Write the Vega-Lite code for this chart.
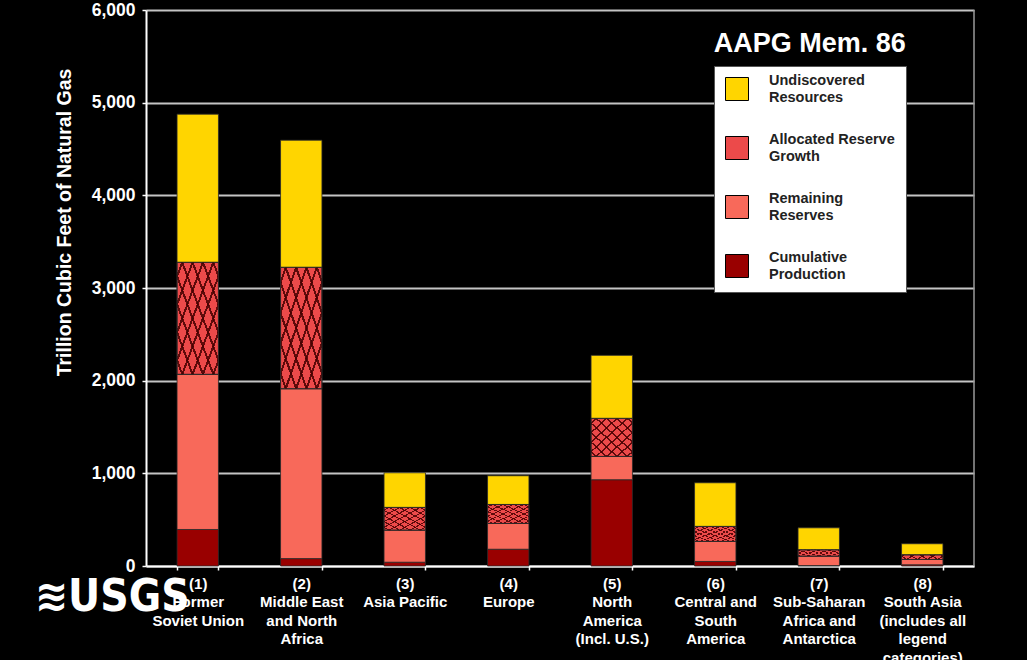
{
  "$schema": "https://vega.github.io/schema/vega-lite/v6.json",
  "autosize": {"type": "none"},
  "width": 828,
  "height": 556,
  "padding": {"left": 146, "top": 10, "right": 53, "bottom": 94},
  "background": "black",
  "config": {
    "font": "Liberation Sans",
    "view": {"stroke": null},
    "axis": {"labelColor": "white", "titleColor": "white", "labelFontWeight": "bold", "titleFontWeight": "bold", "labelFont": "Liberation Sans", "titleFont": "Liberation Sans"}
  },
  "datasets": {
    "gas": [
      {"region": "Former Soviet Union", "component": "Cumulative Production", "seq": 1, "tcf": 394},
      {"region": "Former Soviet Union", "component": "Remaining Reserves", "seq": 2, "tcf": 1674},
      {"region": "Former Soviet Union", "component": "Allocated Reserve Growth", "seq": 3, "tcf": 1209},
      {"region": "Former Soviet Union", "component": "Undiscovered Resources", "seq": 4, "tcf": 1599},
      {"region": "Middle East and North Africa", "component": "Cumulative Production", "seq": 1, "tcf": 80},
      {"region": "Middle East and North Africa", "component": "Remaining Reserves", "seq": 2, "tcf": 1833},
      {"region": "Middle East and North Africa", "component": "Allocated Reserve Growth", "seq": 3, "tcf": 1310},
      {"region": "Middle East and North Africa", "component": "Undiscovered Resources", "seq": 4, "tcf": 1372},
      {"region": "Asia Pacific", "component": "Cumulative Production", "seq": 1, "tcf": 41},
      {"region": "Asia Pacific", "component": "Remaining Reserves", "seq": 2, "tcf": 346},
      {"region": "Asia Pacific", "component": "Allocated Reserve Growth", "seq": 3, "tcf": 245},
      {"region": "Asia Pacific", "component": "Undiscovered Resources", "seq": 4, "tcf": 374},
      {"region": "Europe", "component": "Cumulative Production", "seq": 1, "tcf": 181},
      {"region": "Europe", "component": "Remaining Reserves", "seq": 2, "tcf": 278},
      {"region": "Europe", "component": "Allocated Reserve Growth", "seq": 3, "tcf": 205},
      {"region": "Europe", "component": "Undiscovered Resources", "seq": 4, "tcf": 310},
      {"region": "North America (Incl. U.S.)", "component": "Cumulative Production", "seq": 1, "tcf": 931},
      {"region": "North America (Incl. U.S.)", "component": "Remaining Reserves", "seq": 2, "tcf": 251},
      {"region": "North America (Incl. U.S.)", "component": "Allocated Reserve Growth", "seq": 3, "tcf": 411},
      {"region": "North America (Incl. U.S.)", "component": "Undiscovered Resources", "seq": 4, "tcf": 680},
      {"region": "Central and South America", "component": "Cumulative Production", "seq": 1, "tcf": 49},
      {"region": "Central and South America", "component": "Remaining Reserves", "seq": 2, "tcf": 216},
      {"region": "Central and South America", "component": "Allocated Reserve Growth", "seq": 3, "tcf": 162},
      {"region": "Central and South America", "component": "Undiscovered Resources", "seq": 4, "tcf": 471},
      {"region": "Sub-Saharan Africa and Antarctica", "component": "Cumulative Production", "seq": 1, "tcf": 5},
      {"region": "Sub-Saharan Africa and Antarctica", "component": "Remaining Reserves", "seq": 2, "tcf": 101},
      {"region": "Sub-Saharan Africa and Antarctica", "component": "Allocated Reserve Growth", "seq": 3, "tcf": 69},
      {"region": "Sub-Saharan Africa and Antarctica", "component": "Undiscovered Resources", "seq": 4, "tcf": 237},
      {"region": "South Asia", "component": "Cumulative Production", "seq": 1, "tcf": 13},
      {"region": "South Asia", "component": "Remaining Reserves", "seq": 2, "tcf": 57},
      {"region": "South Asia", "component": "Allocated Reserve Growth", "seq": 3, "tcf": 51},
      {"region": "South Asia", "component": "Undiscovered Resources", "seq": 4, "tcf": 119}
    ],
    "notes": [
      {"note": "AAPG Mem. 86"}
    ],
    "logo": [
      {"logo": "≋USGS"}
    ],
    "edge": [
      {"region": "South Asia", "low": 0, "high": 6000}
    ]
  },
  "encoding": {
    "x": {
      "field": "region",
      "type": "nominal",
      "sort": null,
      "scale": {"domain": ["Former Soviet Union", "Middle East and North Africa", "Asia Pacific", "Europe", "North America (Incl. U.S.)", "Central and South America", "Sub-Saharan Africa and Antarctica", "South Asia"], "paddingInner": 0.6, "paddingOuter": 0.3},
      "axis": {
        "title": null,
        "labelAngle": 0,
        "labelFontSize": 15,
        "labelLineHeight": 18.5,
        "labelPadding": 6,
        "labelBaseline": "top",
        "labelLimit": 200,
        "domainColor": "white",
        "domainWidth": 2,
        "tickColor": "white",
        "tickSize": 4,
        "tickWidth": 1.5,
        "tickBand": "extent",
        "grid": false,
        "labelExpr": "{'Former Soviet Union': ['(1)', 'Former', 'Soviet Union'], 'Middle East and North Africa': ['(2)', 'Middle East', 'and North', 'Africa'], 'Asia Pacific': ['(3)', 'Asia Pacific'], 'Europe': ['(4)', 'Europe'], 'North America (Incl. U.S.)': ['(5)', 'North', 'America', '(Incl. U.S.)'], 'Central and South America': ['(6)', 'Central and', 'South', 'America'], 'Sub-Saharan Africa and Antarctica': ['(7)', 'Sub-Saharan', 'Africa and', 'Antarctica'], 'South Asia': ['(8)', 'South Asia', '(includes all', 'legend', 'categories)']}[datum.label]"
      }
    }
  },
  "layer": [
    {
      "data": {"name": "edge"},
      "mark": {"type": "rule", "color": "#9a9a9a", "strokeWidth": 1.5},
      "encoding": {
        "x": {"field": "region", "type": "nominal", "bandPosition": 1.75},
        "y": {"field": "low", "type": "quantitative", "title": "Trillion Cubic Feet of Natural Gas"},
        "y2": {"field": "high"}
      }
    },
    {
      "data": {"name": "gas"},
      "mark": {"type": "bar", "stroke": "#2a2a2a", "strokeWidth": 0.8},
      "encoding": {
        "y": {
          "field": "tcf",
          "type": "quantitative",
          "stack": "zero",
          "title": "Trillion Cubic Feet of Natural Gas",
          "scale": {"domain": [0, 6000], "nice": false},
          "axis": {
            "title": "Trillion Cubic Feet of Natural Gas",
            "titleFontSize": 19.5,
            "titleAngle": -90,
            "titleX": -82,
            "titleY": 212,
            "titleAlign": "center",
            "titleBaseline": "middle",
            "labelFontSize": 17.5,
            "labelPadding": 7,
            "format": ",d",
            "values": [0, 1000, 2000, 3000, 4000, 5000, 6000],
            "domainColor": "white",
            "domainWidth": 2,
            "tickColor": "white",
            "tickSize": 4,
            "tickWidth": 1.5,
            "gridColor": "#c4c4c4",
            "gridWidth": 1.8
          }
        },
        "color": {
          "field": "component",
          "type": "nominal",
          "scale": {
            "domain": ["Undiscovered Resources", "Allocated Reserve Growth", "Remaining Reserves", "Cumulative Production"],
            "range": ["#FFD500", "#EC4A4A", "#F8695A", "#990000"]
          },
          "legend": {
            "title": null,
            "orient": "none",
            "legendX": 568,
            "legendY": 56,
            "fillColor": "white",
            "strokeColor": "#555555",
            "padding": 11,
            "symbolType": "square",
            "symbolSize": 529,
            "symbolStrokeColor": "black",
            "symbolStrokeWidth": 1,
            "symbolOpacity": 1,
            "labelFont": "Liberation Sans",
            "labelFontWeight": "bold",
            "labelFontSize": 14.5,
            "labelColor": "#222222",
            "labelLineHeight": 17.5,
            "labelBaseline": "line-bottom",
            "labelOffset": 20,
            "labelLimit": 200,
            "rowPadding": 28,
            "labelExpr": "{'Undiscovered Resources': ['Undiscovered', 'Resources'], 'Allocated Reserve Growth': ['Allocated Reserve', 'Growth'], 'Remaining Reserves': ['Remaining', 'Reserves'], 'Cumulative Production': ['Cumulative', 'Production']}[datum.label]"
          }
        },
        "order": {"field": "seq", "type": "quantitative"}
      }
    },
    {
      "data": {"name": "gas"},
      "transform": [
        {"stack": "tcf", "groupby": ["region"], "sort": [{"field": "seq", "order": "ascending"}], "as": ["lo", "hi"]},
        {"filter": "datum.component == 'Allocated Reserve Growth'"}
      ],
      "mark": {
        "type": "bar",
        "stroke": null,
        "fill": {
          "gradient": "linear", "x1": 0, "y1": 0, "x2": 1, "y2": 1,
          "stops": [
            {"offset": 0, "color": "rgba(0,0,0,0)"},
            {"offset": 0.05, "color": "rgba(0,0,0,0)"}, {"offset": 0.05, "color": "rgba(70,0,0,0.85)"}, {"offset": 0.075, "color": "rgba(70,0,0,0.85)"}, {"offset": 0.075, "color": "rgba(0,0,0,0)"},
            {"offset": 0.175, "color": "rgba(0,0,0,0)"}, {"offset": 0.175, "color": "rgba(70,0,0,0.85)"}, {"offset": 0.2, "color": "rgba(70,0,0,0.85)"}, {"offset": 0.2, "color": "rgba(0,0,0,0)"},
            {"offset": 0.3, "color": "rgba(0,0,0,0)"}, {"offset": 0.3, "color": "rgba(70,0,0,0.85)"}, {"offset": 0.325, "color": "rgba(70,0,0,0.85)"}, {"offset": 0.325, "color": "rgba(0,0,0,0)"},
            {"offset": 0.425, "color": "rgba(0,0,0,0)"}, {"offset": 0.425, "color": "rgba(70,0,0,0.85)"}, {"offset": 0.45, "color": "rgba(70,0,0,0.85)"}, {"offset": 0.45, "color": "rgba(0,0,0,0)"},
            {"offset": 0.55, "color": "rgba(0,0,0,0)"}, {"offset": 0.55, "color": "rgba(70,0,0,0.85)"}, {"offset": 0.575, "color": "rgba(70,0,0,0.85)"}, {"offset": 0.575, "color": "rgba(0,0,0,0)"},
            {"offset": 0.675, "color": "rgba(0,0,0,0)"}, {"offset": 0.675, "color": "rgba(70,0,0,0.85)"}, {"offset": 0.7, "color": "rgba(70,0,0,0.85)"}, {"offset": 0.7, "color": "rgba(0,0,0,0)"},
            {"offset": 0.8, "color": "rgba(0,0,0,0)"}, {"offset": 0.8, "color": "rgba(70,0,0,0.85)"}, {"offset": 0.825, "color": "rgba(70,0,0,0.85)"}, {"offset": 0.825, "color": "rgba(0,0,0,0)"},
            {"offset": 0.925, "color": "rgba(0,0,0,0)"}, {"offset": 0.925, "color": "rgba(70,0,0,0.85)"}, {"offset": 0.95, "color": "rgba(70,0,0,0.85)"}, {"offset": 0.95, "color": "rgba(0,0,0,0)"},
            {"offset": 1, "color": "rgba(0,0,0,0)"}
          ]
        }
      },
      "encoding": {
        "y": {"field": "lo", "type": "quantitative", "title": "Trillion Cubic Feet of Natural Gas"},
        "y2": {"field": "hi"}
      }
    },
    {
      "data": {"name": "gas"},
      "transform": [
        {"stack": "tcf", "groupby": ["region"], "sort": [{"field": "seq", "order": "ascending"}], "as": ["lo", "hi"]},
        {"filter": "datum.component == 'Allocated Reserve Growth'"}
      ],
      "mark": {
        "type": "bar",
        "stroke": "#2a2a2a",
        "strokeWidth": 0.8,
        "fill": {
          "gradient": "linear", "x1": 1, "y1": 0, "x2": 0, "y2": 1,
          "stops": [
            {"offset": 0, "color": "rgba(0,0,0,0)"},
            {"offset": 0.05, "color": "rgba(0,0,0,0)"}, {"offset": 0.05, "color": "rgba(70,0,0,0.85)"}, {"offset": 0.075, "color": "rgba(70,0,0,0.85)"}, {"offset": 0.075, "color": "rgba(0,0,0,0)"},
            {"offset": 0.175, "color": "rgba(0,0,0,0)"}, {"offset": 0.175, "color": "rgba(70,0,0,0.85)"}, {"offset": 0.2, "color": "rgba(70,0,0,0.85)"}, {"offset": 0.2, "color": "rgba(0,0,0,0)"},
            {"offset": 0.3, "color": "rgba(0,0,0,0)"}, {"offset": 0.3, "color": "rgba(70,0,0,0.85)"}, {"offset": 0.325, "color": "rgba(70,0,0,0.85)"}, {"offset": 0.325, "color": "rgba(0,0,0,0)"},
            {"offset": 0.425, "color": "rgba(0,0,0,0)"}, {"offset": 0.425, "color": "rgba(70,0,0,0.85)"}, {"offset": 0.45, "color": "rgba(70,0,0,0.85)"}, {"offset": 0.45, "color": "rgba(0,0,0,0)"},
            {"offset": 0.55, "color": "rgba(0,0,0,0)"}, {"offset": 0.55, "color": "rgba(70,0,0,0.85)"}, {"offset": 0.575, "color": "rgba(70,0,0,0.85)"}, {"offset": 0.575, "color": "rgba(0,0,0,0)"},
            {"offset": 0.675, "color": "rgba(0,0,0,0)"}, {"offset": 0.675, "color": "rgba(70,0,0,0.85)"}, {"offset": 0.7, "color": "rgba(70,0,0,0.85)"}, {"offset": 0.7, "color": "rgba(0,0,0,0)"},
            {"offset": 0.8, "color": "rgba(0,0,0,0)"}, {"offset": 0.8, "color": "rgba(70,0,0,0.85)"}, {"offset": 0.825, "color": "rgba(70,0,0,0.85)"}, {"offset": 0.825, "color": "rgba(0,0,0,0)"},
            {"offset": 0.925, "color": "rgba(0,0,0,0)"}, {"offset": 0.925, "color": "rgba(70,0,0,0.85)"}, {"offset": 0.95, "color": "rgba(70,0,0,0.85)"}, {"offset": 0.95, "color": "rgba(0,0,0,0)"},
            {"offset": 1, "color": "rgba(0,0,0,0)"}
          ]
        }
      },
      "encoding": {
        "y": {"field": "lo", "type": "quantitative", "title": "Trillion Cubic Feet of Natural Gas"},
        "y2": {"field": "hi"}
      }
    },
    {
      "data": {"name": "notes"},
      "mark": {"type": "text", "font": "Liberation Sans", "fontWeight": "bold", "fontSize": 27, "color": "white", "align": "center", "baseline": "middle", "dx": -9},
      "encoding": {
        "x": {"datum": "Sub-Saharan Africa and Antarctica"},
        "y": {"datum": 5630},
        "text": {"field": "note"}
      }
    },
    {
      "data": {"name": "logo"},
      "mark": {"type": "text", "font": "DejaVu Sans Condensed", "fontWeight": "bold", "fontSize": 44, "color": "white", "align": "right", "baseline": "middle", "dx": -8, "clip": false},
      "encoding": {
        "x": {"datum": "Former Soviet Union"},
        "y": {"datum": -345},
        "text": {"field": "logo"}
      }
    }
  ]
}
